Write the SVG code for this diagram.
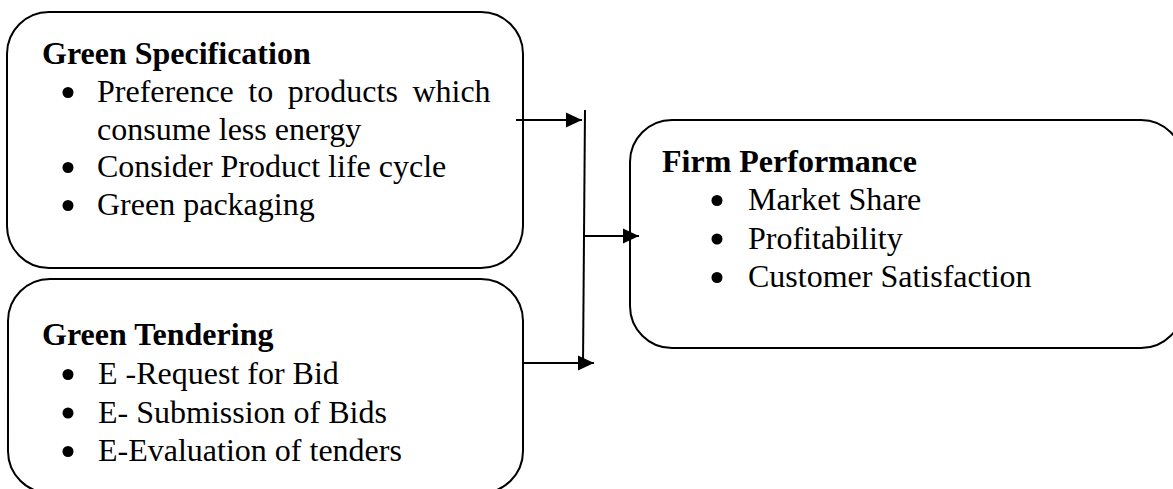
<svg xmlns="http://www.w3.org/2000/svg" width="1173" height="489" viewBox="0 0 1173 489">
<style>
.box{fill:#fff;stroke:#000;stroke-width:2}
.t{font-family:"Liberation Serif","Times New Roman",serif;font-size:32px;fill:#000}
.b{font-weight:bold}
.bul{fill:#000}
.ln{stroke:#000;stroke-width:2;fill:none}
</style>
<defs>
<marker id="ah" markerWidth="17" markerHeight="16" refX="16" refY="8" orient="auto" markerUnits="userSpaceOnUse">
<path d="M0,0.5 L16,8 L0,15.5 Z" fill="#000"/>
</marker>
</defs>
<rect width="1173" height="489" fill="#fff"/>
<g id="green-specification">
<rect class="box" x="7" y="12" width="516" height="256" rx="42" ry="42"/>
<text class="t b" x="42" y="64">Green Specification</text>
<circle class="bul" cx="68" cy="92.5" r="5.5"/>
<text class="t" x="97" y="102" word-spacing="6.5">Preference to products which</text>
<text class="t" x="97" y="139.5">consume less energy</text>
<circle class="bul" cx="68" cy="167.5" r="5.5"/>
<text class="t" x="97" y="177">Consider Product life cycle</text>
<circle class="bul" cx="68" cy="205.5" r="5.5"/>
<text class="t" x="97" y="215">Green packaging</text>
</g>
<g id="green-tendering">
<rect class="box" x="8" y="279" width="515" height="214" rx="42" ry="42"/>
<text class="t b" x="42" y="345">Green Tendering</text>
<circle class="bul" cx="68" cy="374.5" r="5.5"/>
<text class="t" x="98" y="384">E -Request for Bid</text>
<circle class="bul" cx="68" cy="413" r="5.5"/>
<text class="t" x="98" y="422.5">E- Submission of Bids</text>
<circle class="bul" cx="68" cy="451.5" r="5.5"/>
<text class="t" x="98" y="461">E-Evaluation of tenders</text>
</g>
<g id="firm-performance">
<rect class="box" x="630" y="120" width="553" height="228" rx="42" ry="42"/>
<text class="t b" x="662" y="171.5">Firm Performance</text>
<circle class="bul" cx="717" cy="200.5" r="5.5"/>
<text class="t" x="748" y="210">Market Share</text>
<circle class="bul" cx="717" cy="239" r="5.5"/>
<text class="t" x="748" y="248.5">Profitability</text>
<circle class="bul" cx="717" cy="277.5" r="5.5"/>
<text class="t" x="748" y="287">Customer Satisfaction</text>
</g>
<g id="connectors">
<line class="ln" x1="585" y1="110" x2="583" y2="365"/>
<line class="ln" x1="516" y1="120" x2="582" y2="120" marker-end="url(#ah)"/>
<line class="ln" x1="583" y1="236" x2="639" y2="236" marker-end="url(#ah)"/>
<line class="ln" x1="523" y1="363" x2="594" y2="363" marker-end="url(#ah)"/>
</g>
</svg>
